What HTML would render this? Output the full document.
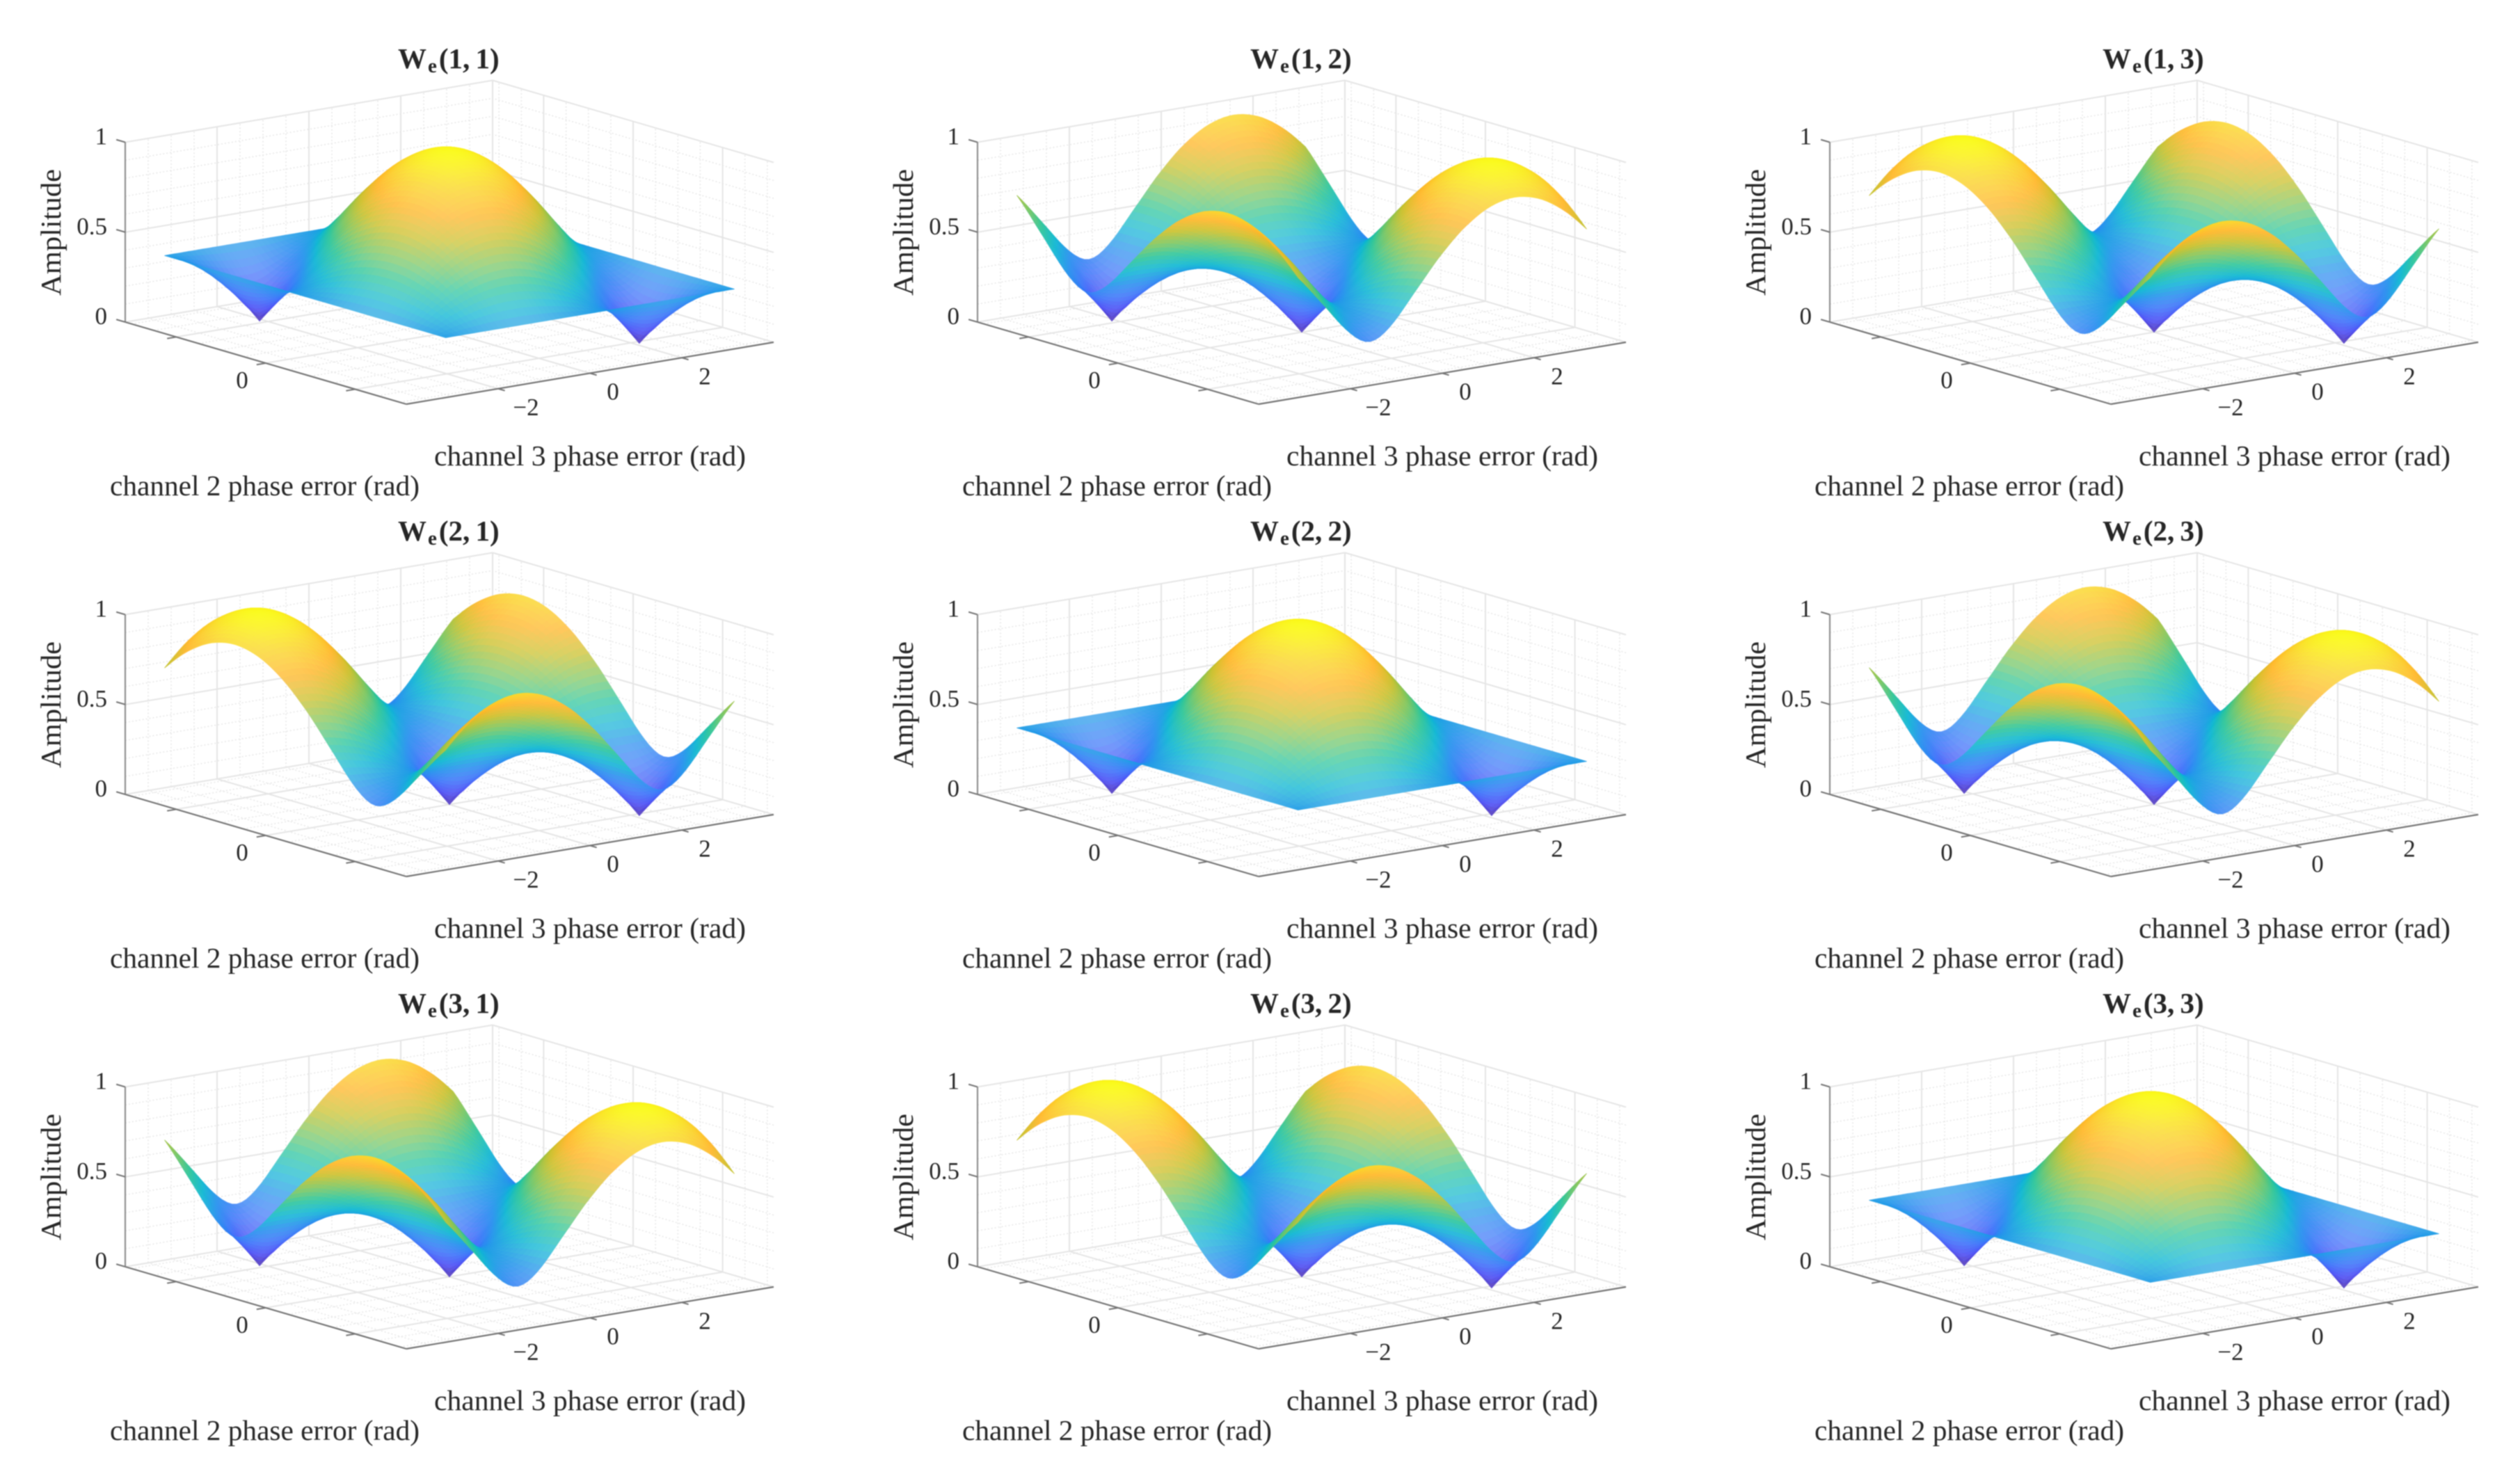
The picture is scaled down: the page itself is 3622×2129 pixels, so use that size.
<!DOCTYPE html>
<html lang="en">
<head>
<meta charset="utf-8">
<title>Weight matrix amplitude versus channel phase errors</title>
<style>
  html, body { margin: 0; padding: 0; background: #ffffff; }
  #figure { display: block; width: 3622px; height: 2129px; filter: blur(0.7px); }
  text { font-family: "Liberation Serif", serif; fill: #262626; }
</style>
</head>
<body>
<svg id="figure" xmlns="http://www.w3.org/2000/svg" width="3622" height="2129" viewBox="0 0 3622 2129">
  <rect x="0" y="0" width="3622" height="2129" fill="#ffffff"></rect>
</svg>
<script>
// Amplitude samples, rows = channel 2 phase (-180..180 deg, 30 deg step), columns = channel 3 phase (same step).
const surfaceDiagonal = [
  [.333,.333,.333,.333,.333,.333,.333,.333,.333,.333,.333,.333,.333],
  [.333,.413,.471,.502,.502,.471,.413,.333,.244,.173,.173,.244,.333],
  [.333,.471,.577,.644,.667,.644,.577,.471,.333,.173,0,.173,.333],
  [.333,.502,.644,.745,.798,.798,.745,.644,.502,.333,.173,.173,.333],
  [.333,.502,.667,.798,.882,.911,.882,.798,.667,.502,.333,.244,.333],
  [.333,.471,.644,.798,.911,.970,.970,.911,.798,.644,.471,.333,.333],
  [.333,.413,.577,.745,.882,.970,1,.970,.882,.745,.577,.413,.333],
  [.333,.333,.471,.644,.798,.911,.970,.970,.911,.798,.644,.471,.333],
  [.333,.244,.333,.502,.667,.798,.882,.911,.882,.798,.667,.502,.333],
  [.333,.173,.173,.333,.502,.644,.745,.798,.798,.745,.644,.502,.333],
  [.333,.173,0,.173,.333,.471,.577,.644,.667,.644,.577,.471,.333],
  [.333,.244,.173,.173,.244,.333,.413,.471,.502,.502,.471,.413,.333],
  [.333,.333,.333,.333,.333,.333,.333,.333,.333,.333,.333,.333,.333]
];
const surfaceUpper = [
  [.667,.502,.333,.244,.333,.502,.667,.798,.882,.911,.882,.798,.667],
  [.798,.644,.471,.333,.333,.471,.644,.798,.911,.970,.970,.911,.798],
  [.882,.745,.577,.413,.333,.413,.577,.745,.882,.970,1,.970,.882],
  [.911,.798,.644,.471,.333,.333,.471,.644,.798,.911,.970,.970,.911],
  [.882,.798,.667,.502,.333,.244,.333,.502,.667,.798,.882,.911,.882],
  [.798,.745,.644,.502,.333,.173,.173,.333,.502,.644,.745,.798,.798],
  [.667,.644,.577,.471,.333,.173,0,.173,.333,.471,.577,.644,.667],
  [.502,.502,.471,.413,.333,.244,.173,.173,.244,.333,.413,.471,.502],
  [.333,.333,.333,.333,.333,.333,.333,.333,.333,.333,.333,.333,.333],
  [.244,.173,.173,.244,.333,.413,.471,.502,.502,.471,.413,.333,.244],
  [.333,.173,0,.173,.333,.471,.577,.644,.667,.644,.577,.471,.333],
  [.502,.333,.173,.173,.333,.502,.644,.745,.798,.798,.745,.644,.502],
  [.667,.502,.333,.244,.333,.502,.667,.798,.882,.911,.882,.798,.667]
];
const surfaceLower = [
  [.667,.798,.882,.911,.882,.798,.667,.502,.333,.244,.333,.502,.667],
  [.502,.644,.745,.798,.798,.745,.644,.502,.333,.173,.173,.333,.502],
  [.333,.471,.577,.644,.667,.644,.577,.471,.333,.173,0,.173,.333],
  [.244,.333,.413,.471,.502,.502,.471,.413,.333,.244,.173,.173,.244],
  [.333,.333,.333,.333,.333,.333,.333,.333,.333,.333,.333,.333,.333],
  [.502,.471,.413,.333,.244,.173,.173,.244,.333,.413,.471,.502,.502],
  [.667,.644,.577,.471,.333,.173,0,.173,.333,.471,.577,.644,.667],
  [.798,.798,.745,.644,.502,.333,.173,.173,.333,.502,.644,.745,.798],
  [.882,.911,.882,.798,.667,.502,.333,.244,.333,.502,.667,.798,.882],
  [.911,.970,.970,.911,.798,.644,.471,.333,.333,.471,.644,.798,.911],
  [.882,.970,1,.970,.882,.745,.577,.413,.333,.413,.577,.745,.882],
  [.798,.911,.970,.970,.911,.798,.644,.471,.333,.333,.471,.644,.798],
  [.667,.798,.882,.911,.882,.798,.667,.502,.333,.244,.333,.502,.667]
];
const panelSurfaces = [
  [surfaceDiagonal, surfaceUpper, surfaceLower],
  [surfaceLower, surfaceDiagonal, surfaceUpper],
  [surfaceUpper, surfaceLower, surfaceDiagonal]
];
const panelRowLabels = ["1", "2", "3"];
const panelColLabels = ["1", "2", "3"];
const xTickValues = [-2, 0, 2];
const xTickLabels = ["\u22122", "0", "2"];
const yTickValues = [-2, 0, 2];
const yTickLabels = ["", "0", ""];
const zTickValues = [0, 0.5, 1];
const zTickLabels = ["0", "0.5", "1"];
const xLimits = [-4, 4];
const yLimits = [-Math.PI, Math.PI];
const zLimits = [0, 1];
const xAxisTitle = "channel 3 phase error (rad)";
const yAxisTitle = "channel 2 phase error (rad)";
const zAxisTitle = "Amplitude";
const parulaStops = [
  [60,28,170],[70,72,245],[55,110,250],[32,140,238],[5,180,210],
  [35,195,150],[120,195,85],[200,190,35],[255,180,35],[250,212,35],[250,250,15]
];

const NS = "http://www.w3.org/2000/svg";
const figure = document.getElementById("figure");
const COL_STEP = 1225, ROW_STEP = 679, SUBDIV = 5;

function make(tag, attrs, parent) {
  const node = document.createElementNS(NS, tag);
  for (const key in attrs) node.setAttribute(key, attrs[key]);
  parent.appendChild(node);
  return node;
}
// Axis functions: data coordinates to panel pixels (parallel projection of the 3-D box).
function axisFracX(x) { return (x - xLimits[0]) / (xLimits[1] - xLimits[0]); }
function axisFracY(y) { return (y - yLimits[0]) / (yLimits[1] - yLimits[0]); }
function axisFracZ(z) { return (z - zLimits[0]) / (zLimits[1] - zLimits[0]); }
function px(x, y, z) { return 584 + axisFracX(x) * 528 - axisFracY(y) * 404; }
function py(x, y, z) { return 581 - axisFracX(x) * 89 - axisFracY(y) * 118 - axisFracZ(z) * 258.5; }

function parula(t) {
  const c = Math.max(0, Math.min(1, t)) * (parulaStops.length - 1);
  const i = Math.min(parulaStops.length - 2, Math.floor(c));
  const f = c - i;
  return [0, 1, 2].map(k => parulaStops[i][k] + (parulaStops[i + 1][k] - parulaStops[i][k]) * f);
}
function spline(a, b, c, d, t) {
  return 0.5 * (2 * b + (c - a) * t + (2 * a - 5 * b + 4 * c - d) * t * t + (3 * b - a - 3 * c + d) * t * t * t);
}
function wrap(k, n) { return ((k % n) + n) % n; }
// Smooth sampling of a value table (works on squared amplitude so the null cusps remain sharp).
function sampleSurface(table) {
  const n = table.length - 1;
  const steps = n * SUBDIV;
  const out = [];
  for (let r = 0; r <= steps; r++) {
    const row = [];
    const rb = Math.min(n - 1, Math.floor(r / SUBDIV));
    const rt = r / SUBDIV - rb;
    for (let c = 0; c <= steps; c++) {
      const cb = Math.min(n - 1, Math.floor(c / SUBDIV));
      const ct = c / SUBDIV - cb;
      const across = [];
      for (let dr = -1; dr <= 2; dr++) {
        const line = table[wrap(rb + dr, n)];
        const v = [-1, 0, 1, 2].map(dc => { const s = line[wrap(cb + dc, n)]; return s * s; });
        across.push(spline(v[0], v[1], v[2], v[3], ct));
      }
      row.push(Math.sqrt(Math.max(0, spline(across[0], across[1], across[2], across[3], rt))));
    }
    out.push(row);
  }
  return out;
}
function drawLine(parent, x1, y1, z1, x2, y2, z2, stroke, width, dash) {
  const attrs = { x1: px(x1, y1, z1).toFixed(1), y1: py(x1, y1, z1).toFixed(1), x2: px(x2, y2, z2).toFixed(1), y2: py(x2, y2, z2).toFixed(1), stroke: stroke, "stroke-width": width };
  if (dash) attrs["stroke-dasharray"] = dash;
  const line = make("line", attrs, parent);
  
  
  return line;
}
function drawGrid(parent) {
  const xa = xLimits[0], xb = xLimits[1], ya = yLimits[0], yb = yLimits[1];
  const MAJOR = "#e5e5e5", MINOR = "#e6e6e6", DASH = "2 3";
  const xMinor = [], yMinor = [], zMinor = [];
  for (let k = -8; k <= 8; k++) if (k * 0.5 >= xa && k * 0.5 <= xb && !xTickValues.includes(k * 0.5)) xMinor.push(k * 0.5);
  for (let k = -6; k <= 6; k++) if (!yTickValues.includes(k * 0.5)) yMinor.push(k * 0.5);
  for (let k = 1; k < 10; k++) if (k !== 5) zMinor.push(k / 10);
  xMinor.forEach(v => { drawLine(parent, v, ya, 0, v, yb, 0, MINOR, 1.5, DASH); drawLine(parent, v, yb, 0, v, yb, 1, MINOR, 1.5, DASH); });
  yMinor.forEach(v => { drawLine(parent, xa, v, 0, xb, v, 0, MINOR, 1.5, DASH); drawLine(parent, xb, v, 0, xb, v, 1, MINOR, 1.5, DASH); });
  zMinor.forEach(v => { drawLine(parent, xa, yb, v, xb, yb, v, MINOR, 1.5, DASH); drawLine(parent, xb, ya, v, xb, yb, v, MINOR, 1.5, DASH); });
  xTickValues.forEach(v => { drawLine(parent, v, ya, 0, v, yb, 0, MAJOR, 2); drawLine(parent, v, yb, 0, v, yb, 1, MAJOR, 2); });
  yTickValues.forEach(v => { drawLine(parent, xa, v, 0, xb, v, 0, MAJOR, 2); drawLine(parent, xb, v, 0, xb, v, 1, MAJOR, 2); });
  zTickValues.forEach(v => { drawLine(parent, xa, yb, v, xb, yb, v, MAJOR, 2); drawLine(parent, xb, ya, v, xb, yb, v, MAJOR, 2); });
  drawLine(parent, xb, yb, 0, xb, yb, 1, MAJOR, 2);
}
function drawSurface(parent, table) {
  const fine = sampleSurface(table);
  const steps = fine.length - 1;
  const dp = (yLimits[1] - yLimits[0]) / steps;
  const phase = k => -Math.PI + k * dp;
  const sx = [], sy = [];
  for (let r = 0; r <= steps; r++) {
    sx.push([]); sy.push([]);
    for (let c = 0; c <= steps; c++) {
      sx[r].push(px(phase(c), phase(r), fine[r][c]));
      sy[r].push(py(phase(c), phase(r), fine[r][c]));
    }
  }
  const flatArea = Math.abs((528 / 8) * (118 / (2 * Math.PI)) + (89 / 8) * (404 / (2 * Math.PI))) * dp * dp;
  for (let r = steps - 1; r >= 0; r--) {
    for (let c = steps - 1; c >= 0; c--) {
      const ax = sx[r + 1][c + 1] - sx[r][c], ay = sy[r + 1][c + 1] - sy[r][c];
      const bx = sx[r + 1][c] - sx[r][c + 1], by = sy[r + 1][c] - sy[r][c + 1];
      const area = 0.5 * Math.abs(ax * by - ay * bx);
      const mix = Math.min(0.42, 0.08 * area / flatArea);
      const zMean = (fine[r][c] + fine[r][c + 1] + fine[r + 1][c] + fine[r + 1][c + 1]) / 4;
      const rgb = parula(axisFracZ(zMean)).map(v => Math.round(v + (255 - v) * mix));
      const color = "rgb(" + rgb.join(",") + ")";
      const d = "M" + sx[r][c].toFixed(1) + " " + sy[r][c].toFixed(1) +
        "L" + sx[r][c + 1].toFixed(1) + " " + sy[r][c + 1].toFixed(1) +
        "L" + sx[r + 1][c + 1].toFixed(1) + " " + sy[r + 1][c + 1].toFixed(1) +
        "L" + sx[r + 1][c].toFixed(1) + " " + sy[r + 1][c].toFixed(1) + "Z";
      const cell = make("path", { d: d, fill: color, stroke: color, "stroke-width": 0.9, "stroke-linejoin": "round" }, parent);
      
      
    }
  }
}
function drawAxes(parent) {
  const xa = xLimits[0], xb = xLimits[1], ya = yLimits[0], yb = yLimits[1];
  const zAxis = make("line", { x1: px(xa, yb, 0), y1: py(xa, yb, 0), x2: px(xa, yb, 1), y2: py(xa, yb, 1), stroke: "#8f8f8f", "stroke-width": 2.2 }, parent);
  
  
  const yAxis = make("line", { x1: px(xa, ya, 0), y1: py(xa, ya, 0), x2: px(xa, yb, 0), y2: py(xa, yb, 0), stroke: "#757575", "stroke-width": 2.2 }, parent);
  
  
  const xAxis = make("line", { x1: px(xa, ya, 0), y1: py(xa, ya, 0), x2: px(xb, ya, 0), y2: py(xb, ya, 0), stroke: "#757575", "stroke-width": 2.2 }, parent);
  
  

  xTickValues.forEach((v, i) => {
    const tick = make("line", { x1: px(v, ya, 0), y1: py(v, ya, 0), x2: px(v, ya - 0.15, 0), y2: py(v, ya - 0.15, 0), stroke: "#757575", "stroke-width": 2 }, parent);
    
    
    const label = make("text", { x: px(v, ya, 0) + (v < 0 ? 40 : 33), y: py(v, ya, 0) + 38, "font-size": 35, "text-anchor": "middle" }, parent);
    label.textContent = xTickLabels[i];
    
    
  });
  yTickValues.forEach((v, i) => {
    const tick = make("line", { x1: px(xa, v, 0), y1: py(xa, v, 0), x2: px(xa - 0.2, v, 0), y2: py(xa - 0.2, v, 0), stroke: "#757575", "stroke-width": 2 }, parent);
    
    
    if (yTickLabels[i]) {
      const label = make("text", { x: px(xa, v, 0) - 34, y: py(xa, v, 0) + 36, "font-size": 35, "text-anchor": "middle" }, parent);
      label.textContent = yTickLabels[i];
      
      
    }
  });
  zTickValues.forEach((v, i) => {
    const tick = make("line", { x1: px(xa, yb, v), y1: py(xa, yb, v), x2: px(xa, yb + 0.2, v), y2: py(xa, yb + 0.2, v), stroke: "#757575", "stroke-width": 2 }, parent);
    
    
    const label = make("text", { x: 154, y: py(xa, yb, v) + 3, "font-size": 35, "text-anchor": "end" }, parent);
    label.textContent = zTickLabels[i];
    
    
  });
}
function drawLabels(parent, rowLabel, colLabel) {
  const title = make("text", { x: 572, y: 98, "font-size": 41, "font-weight": "bold", fill: "#1a1a1a" }, parent);
  
  
  const w = make("tspan", {}, title);
  w.textContent = "W";
  const sub = make("tspan", { "font-size": 29, dy: 6, dx: 2 }, title);
  sub.textContent = "e";
  const args = make("tspan", { dy: -6, dx: 3 }, title);
  args.textContent = "(" + rowLabel + ",\u2009" + colLabel + ")";

  const xTitle = make("text", { x: 624, y: 669, "font-size": 41, textLength: 448, lengthAdjust: "spacingAndGlyphs" }, parent);
  xTitle.textContent = xAxisTitle;
  
  
  const yTitle = make("text", { x: 158, y: 712, "font-size": 41, textLength: 445, lengthAdjust: "spacingAndGlyphs" }, parent);
  yTitle.textContent = yAxisTitle;
  
  
  const zTitle = make("text", { x: 87, y: 334, "font-size": 41, "text-anchor": "middle", transform: "rotate(-90 87 334)", textLength: 182, lengthAdjust: "spacingAndGlyphs" }, parent);
  zTitle.textContent = zAxisTitle;
  
  
}

panelSurfaces.forEach((rowSurfaces, r) => {
  rowSurfaces.forEach((table, c) => {
    const panel = make("g", { transform: "translate(" + c * COL_STEP + " " + r * ROW_STEP + ")" }, figure);
    
    
    const grid = make("g", {}, panel);
    
    
    drawGrid(grid);
    const axes = make("g", {}, panel);
    
    
    drawAxes(axes);
    const surface = make("g", {}, panel);
    
    
    drawSurface(surface, table);
    drawLabels(panel, panelRowLabels[r], panelColLabels[c]);
  });
});
</script>
</body>
</html>
